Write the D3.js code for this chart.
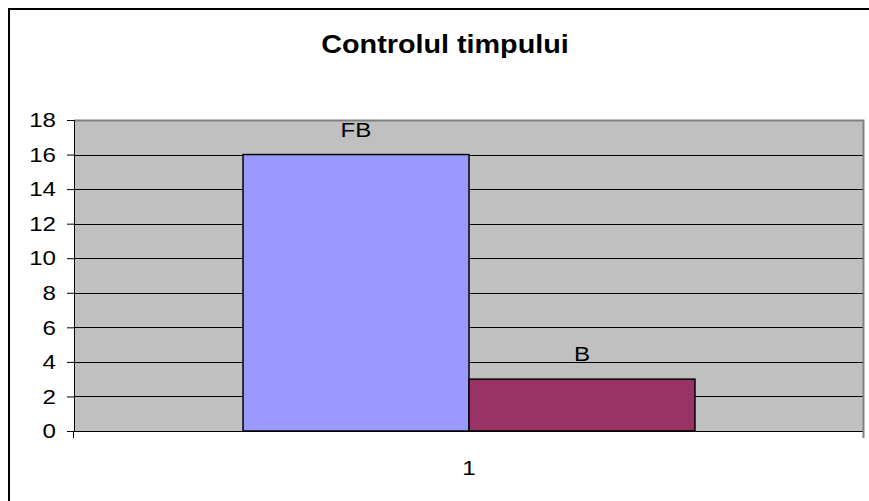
<!DOCTYPE html>
<html>
<head>
<meta charset="utf-8">
<script src="https://cdn.jsdelivr.net/npm/d3@7"></script>
<style>
  body { margin: 0; background: #fff; }
  text { font-family: "Liberation Sans", Arial, sans-serif; fill: #000; }
</style>
</head>
<body>
<svg width="869" height="501"></svg>
<script>
var categories = ["1"];
var seriesNames = ["FB", "B"];
var seriesValues = [16, 3];
var seriesColors = ["#9999ff", "#993366"];
var yTicks = [0, 2, 4, 6, 8, 10, 12, 14, 16, 18];
var title = "Controlul timpului";

// the source picture is a bit wider than tall, so text is stretched sideways
var sx = 1.15;

var svg = d3.select("svg");

// chart frame (runs off the right and bottom edges)
svg.append("rect")
    .attr("x", 9).attr("y", 9)
    .attr("width", 880).attr("height", 520)
    .attr("fill", "#fff")
    .attr("stroke", "#000")
    .attr("stroke-width", 2);

var plot = {left: 74, right: 864, top: 120, bottom: 431};

var x = d3.scaleBand()
    .domain(categories)
    .range([plot.left, plot.right]);

var y = d3.scaleLinear()
    .domain([0, 18])
    .range([plot.bottom, plot.top]);

// series inside the category
var xs = d3.scaleBand()
    .domain(seriesNames)
    .range([0, x.bandwidth()])
    .paddingOuter(0.748)
    .paddingInner(0);

// plot area
svg.append("rect")
    .attr("x", plot.left).attr("y", plot.top)
    .attr("width", plot.right - plot.left)
    .attr("height", plot.bottom - plot.top)
    .attr("fill", "#c0c0c0");

// gridlines
svg.append("g")
    .selectAll("line")
    .data(yTicks.filter(function(d){ return d > 0 && d < 18; }))
    .enter().append("line")
    .attr("x1", plot.left).attr("x2", plot.right)
    .attr("y1", function(d){ return Math.round(y(d)) + 0.5; })
    .attr("y2", function(d){ return Math.round(y(d)) + 0.5; })
    .attr("stroke", "#000")
    .attr("stroke-width", 1);

// gray border top/right
svg.append("path")
    .attr("d", "M" + plot.left + "," + (plot.top + 0.5) + "H" + (plot.right - 0.5) + "V" + plot.bottom)
    .attr("fill", "none")
    .attr("stroke", "#808080")
    .attr("stroke-width", 2);

// bars
var data = seriesNames.map(function(n, i){ return {name: n, value: seriesValues[i], color: seriesColors[i], cat: categories[0]}; });

svg.append("g")
    .selectAll("rect")
    .data(data)
    .enter().append("rect")
    .attr("x", function(d){ return x(d.cat) + xs(d.name); })
    .attr("y", function(d){ return y(d.value); })
    .attr("width", xs.bandwidth())
    .attr("height", function(d){ return y(0) - y(d.value); })
    .attr("fill", function(d){ return d.color; })
    .attr("stroke", "#000")
    .attr("stroke-width", 1.5);

// bar labels
svg.append("g")
    .selectAll("text")
    .data(data)
    .enter().append("text")
    .attr("transform", function(d){
        var cx = x(d.cat) + xs(d.name) + xs.bandwidth() / 2;
        return "translate(" + cx + "," + (y(d.value) - 18) + ") scale(" + sx + ",1)";
    })
    .attr("text-anchor", "middle")
    .style("font-size", "21px")
    .text(function(d){ return d.name; });

// y axis
var yAxis = svg.append("g")
    .attr("transform", "translate(" + plot.left + ",0)")
    .call(d3.axisLeft(y).tickValues(yTicks).tickSize(7));
yAxis.select(".domain").attr("stroke", "#000");
yAxis.selectAll(".tick line").attr("stroke", "#000");
yAxis.selectAll("text")
    .attr("x", -18 / sx)
    .attr("transform", "scale(" + sx + ",1)")
    .style("font-size", "21px").attr("fill", "#000");

// x axis
var xAxis = svg.append("g")
    .attr("transform", "translate(0," + plot.bottom + ")")
    .call(d3.axisBottom(x).tickSize(0).tickPadding(29));
xAxis.select(".domain").remove();
xAxis.selectAll("text")
    .attr("transform", "scale(" + sx + ",1)")
    .style("font-size", "21px").attr("fill", "#000");
svg.append("line")
    .attr("x1", plot.left).attr("x2", plot.right)
    .attr("y1", plot.bottom + 0.5).attr("y2", plot.bottom + 0.5)
    .attr("stroke", "#000");
svg.append("g")
    .selectAll("line")
    .data([plot.left, plot.right])
    .enter().append("line")
    .attr("x1", function(d){ return d - 0.5; }).attr("x2", function(d){ return d - 0.5; })
    .attr("y1", plot.bottom).attr("y2", plot.bottom + 7)
    .attr("stroke", function(d, i){ return i ? "#808080" : "#000"; })
    .attr("stroke-width", function(d, i){ return i ? 2 : 1; });

// title
svg.append("text")
    .attr("transform", "translate(445,53) scale(" + sx + ",1)")
    .attr("text-anchor", "middle")
    .style("font-size", "25px")
    .style("font-weight", "bold")
    .text(title);
</script>
</body>
</html>
